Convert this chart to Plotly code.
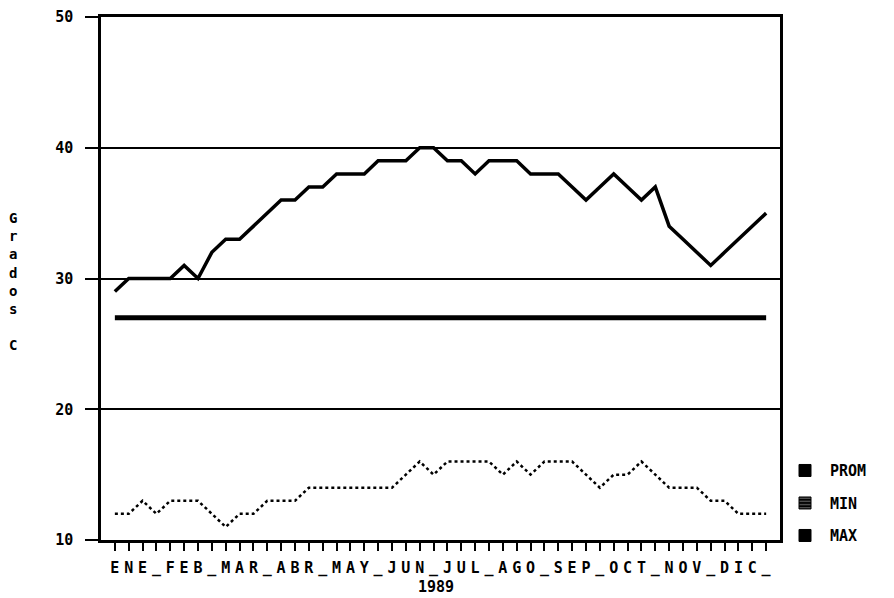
import plotly.graph_objects as go

# ---- data ----
month_label = "ENE_FEB_MAR_ABR_MAY_JUN_JUL_AGO_SEP_OCT_NOV_DIC_"
year_label = "1989"
periods = list(range(1, 49))

max_vals = [29, 30, 30, 30, 30, 31, 30, 32, 33, 33, 34, 35,
            36, 36, 37, 37, 38, 38, 38, 39, 39, 39, 40, 40,
            39, 39, 38, 39, 39, 39, 38, 38, 38, 37, 36, 37,
            38, 37, 36, 37, 34, 33, 32, 31, 32, 33, 34, 35]
min_vals = [12, 12, 13, 12, 13, 13, 13, 12, 11, 12, 12, 13,
            13, 13, 14, 14, 14, 14, 14, 14, 14, 15, 16, 15,
            16, 16, 16, 16, 15, 16, 15, 16, 16, 16, 15, 14,
            15, 15, 16, 15, 14, 14, 14, 13, 13, 12, 12, 12]
prom_vals = [27] * 48

y_ticks = [10, 20, 30, 40, 50]
legend_names = ["PROM", "MIN", "MAX"]

FONT = "DejaVu Sans Mono"

fig = go.Figure()

fig.add_trace(go.Scatter(x=periods, y=prom_vals, mode="lines",
                         line=dict(color="black", width=5),
                         showlegend=False, hoverinfo="skip"))
fig.add_trace(go.Scatter(x=periods, y=min_vals, mode="lines",
                         line=dict(color="black", width=2.5, dash="dot"),
                         showlegend=False, hoverinfo="skip"))
fig.add_trace(go.Scatter(x=periods, y=max_vals, mode="lines",
                         line=dict(color="black", width=3.5),
                         showlegend=False, hoverinfo="skip"))

# legend swatches (square keys as in the reference)
for i, name in enumerate(legend_names):
    pattern = dict(shape="-", fgcolor="white", bgcolor="black", size=4, solidity=0.3) if name == "MIN" else None
    fig.add_trace(go.Bar(x=[None], y=[None], name=name, legendgroup=name,
                         marker=dict(color="black", line=dict(color="black", width=1),
                                     pattern=pattern),
                         legendrank=i + 1))

fig.update_layout(
    width=886, height=590,
    margin=dict(l=93, r=114, t=9, b=58, autoexpand=False),
    paper_bgcolor="white", plot_bgcolor="white",
    font=dict(family=FONT, color="black", size=14, weight="bold"),
    legend=dict(x=1.0, y=0.164, xanchor="left", yanchor="top",
                font=dict(family=FONT, size=15, weight="bold"),
                tracegroupgap=10, traceorder="grouped",
                itemwidth=40, bgcolor="rgba(0,0,0,0)"),
    xaxis=dict(range=[0, 49], tickmode="array", tickvals=periods,
               ticktext=list(month_label), ticks="outside", ticklen=8,
               tickwidth=2, tickcolor="black", showgrid=False, automargin=False,
               showline=True, linecolor="black", linewidth=2.5, mirror=True,
               zeroline=False, tickangle=0, ticklabelstandoff=4,
               ticklabeloverflow="allow",
               tickfont=dict(family=FONT, size=15, weight="bold")),
    yaxis=dict(range=[10, 50], tickmode="array", tickvals=y_ticks,
               ticks="outside", ticklen=13, tickwidth=2, tickcolor="black",
               showgrid=True, gridcolor="black", gridwidth=2, automargin=False,
               showline=True, linecolor="black", linewidth=2.5, mirror=True,
               zeroline=False, ticklabelstandoff=9, ticklabeloverflow="allow",
               tickfont=dict(family=FONT, size=15, weight="bold")),
    annotations=[
        dict(text="<br>".join(list("Grados") + ["", "C"]), xref="paper", yref="paper",
             x=-0.13, y=0.495, xanchor="center", yanchor="middle", showarrow=False,
             font=dict(family=FONT, size=14, weight="bold")),
        dict(text=year_label, xref="x", yref="paper", x=24.2, y=-0.09,
             xanchor="center", yanchor="middle", showarrow=False,
             font=dict(family=FONT, size=15, weight="bold")),
    ],
)

fig.write_html("out.html")
